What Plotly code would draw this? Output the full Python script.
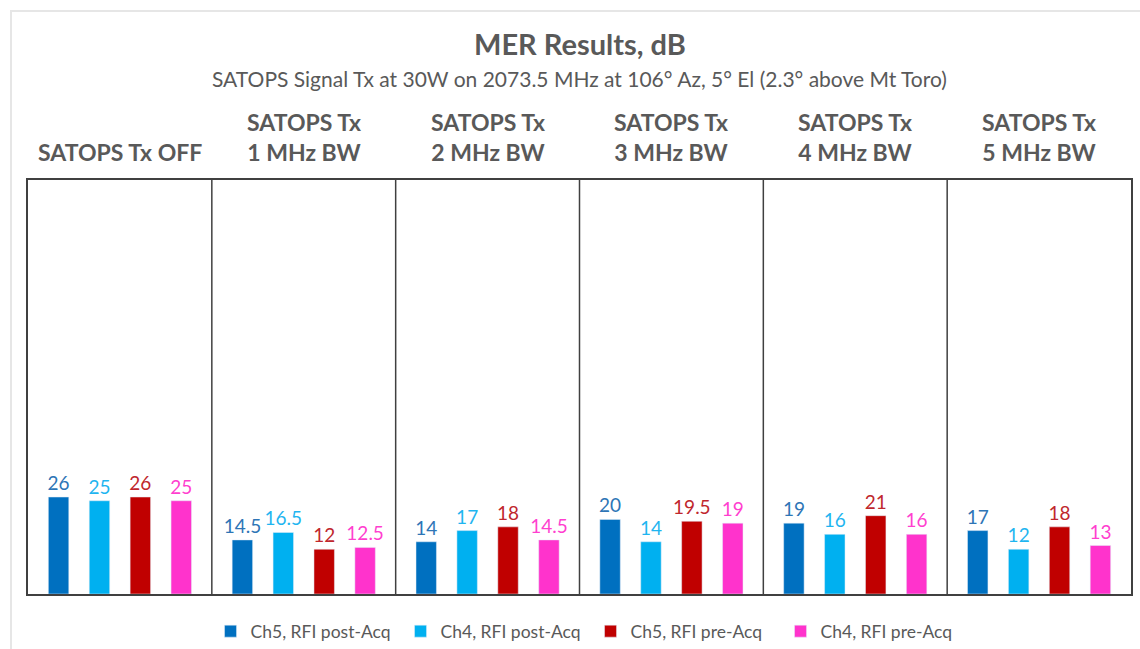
import plotly.graph_objects as go

groups = ["SATOPS Tx OFF", "SATOPS Tx<br>1 MHz BW", "SATOPS Tx<br>2 MHz BW",
          "SATOPS Tx<br>3 MHz BW", "SATOPS Tx<br>4 MHz BW", "SATOPS Tx<br>5 MHz BW"]
series_names = ["Ch5, RFI post-Acq", "Ch4, RFI post-Acq", "Ch5, RFI pre-Acq", "Ch4, RFI pre-Acq"]
ch5_post = [26, 14.5, 14, 20, 19, 17]
ch4_post = [25, 16.5, 17, 14, 16, 12]
ch5_pre = [26, 12, 18, 19.5, 21, 18]
ch4_pre = [25, 12.5, 14.5, 19, 16, 13]
bar_colors = ["#0070C0", "#00B0F0", "#C00000", "#FF33CC"]
label_colors = ["#2E75B6", "#1FB5F0", "#C0272D", "#FF3FCF"]

FONT = "Lato"
GRAY = "#595959"

fig = go.Figure()
xs = list(range(len(groups)))
for name, vals, c, lc in zip(series_names, [ch5_post, ch4_post, ch5_pre, ch4_pre], bar_colors, label_colors):
    fig.add_trace(go.Bar(
        x=xs, y=vals, name=name, marker_color=c,
        text=[f"{v:g}" for v in vals], textposition="outside", constraintext="none",
        textfont=dict(family=FONT, size=19, color=lc),
        cliponaxis=False,
    ))

# divider lines between panels
for i in range(1, len(groups)):
    fig.add_shape(type="line", xref="x", yref="paper", x0=i - 0.5, x1=i - 0.5, y0=0, y1=1,
                  line=dict(color="#404040", width=1.5))

# panel headers
for i, g in enumerate(groups):
    fig.add_annotation(x=i, xref="x", y=1, yref="paper", yanchor="bottom", yshift=12,
                       text=f"<b>{g}</b>", showarrow=False,
                       font=dict(family=FONT, size=23, color=GRAY), align="center")

# subtitle
fig.add_annotation(x=0.5, xref="paper", y=(594 - 78) / 414, yref="paper", yanchor="middle",
                   showarrow=False,
                   text="SATOPS Signal Tx at 30W on 2073.5 MHz at 106° Az, 5° El (2.3° above Mt Toro)",
                   font=dict(family=FONT, size=21, color=GRAY))

# outer frame
fig.add_shape(type="rect", xref="paper", yref="paper",
              x0=(11 - 28) / 1103, x1=(1160 - 28) / 1103,
              y0=(594 - 670) / 414, y1=(594 - 11) / 414,
              line=dict(color="#E6E6E6", width=2), layer="below")

fig.update_layout(
    width=1140, height=649,
    margin=dict(l=28, r=9, t=180, b=55, autoexpand=False),
    paper_bgcolor="white", plot_bgcolor="white",
    barmode="group", bargap=0.11, bargroupgap=0.5,
    title=dict(text="<b>MER Results, dB</b>", x=580 / 1140, xanchor="center",
               y=1 - 45 / 649, yanchor="middle",
               font=dict(family=FONT, size=29, color=GRAY)),
    xaxis=dict(range=[-0.5, 5.5], showticklabels=False, showgrid=False, zeroline=False,
               showline=True, mirror=True, linecolor="#404040", linewidth=1.5, ticks=""),
    yaxis=dict(range=[0, 111], showticklabels=False, showgrid=False, zeroline=False,
               showline=True, mirror=True, linecolor="#404040", linewidth=1.5, ticks=""),
    legend=dict(orientation="h", x=0.51, xanchor="center", y=-0.09, yanchor="middle",
                font=dict(family=FONT, size=17.5, color=GRAY), itemwidth=30,
                entrywidth=145, entrywidthmode="pixels",
                traceorder="normal"),
    showlegend=True,
)

fig.write_html("out.html", config={"displayModeBar": False},
               post_script="document.body.style.margin='0px';document.body.style.overflow='hidden';")
